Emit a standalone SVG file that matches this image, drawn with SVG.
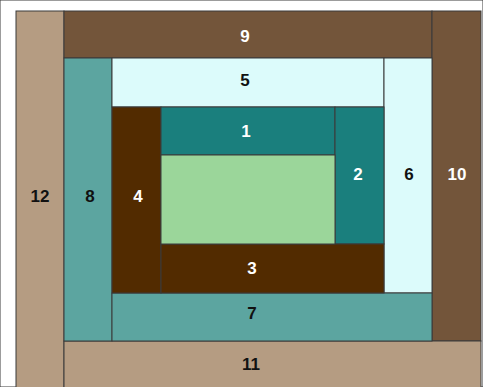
<svg xmlns="http://www.w3.org/2000/svg" width="483" height="387" viewBox="0 0 483 387">
<style>
rect{stroke:#3a3a3a;stroke-width:1}
text{font-family:"Liberation Sans",Arial,sans-serif;font-weight:bold;font-size:17px;text-anchor:middle}
.w{fill:#ffffff}
.k{fill:#111111}
</style>
<rect x="0" y="0" width="483" height="387" fill="#ffffff" stroke="none"/>
<g id="b12"><rect x="16" y="11" width="48" height="380" fill="#b59c82" stroke="#808080"/><text class="k" x="40" y="202">12</text></g>
<g id="b9"><rect x="64" y="11" width="368" height="47" fill="#73553a"/><text class="w" x="245" y="42">9</text></g>
<g id="b10"><rect x="432" y="11" width="49" height="330" fill="#73553a"/><text class="w" x="457" y="180">10</text></g>
<g id="b11"><rect x="64" y="341" width="417" height="50" fill="#b59c82"/><text class="k" x="251" y="370">11</text></g>
<g id="b8"><rect x="64" y="58" width="48" height="283" fill="#5ca5a0"/><text class="k" x="90" y="202">8</text></g>
<g id="b5"><rect x="112" y="58" width="272" height="49" fill="#dcfbfb"/><text class="k" x="245" y="86">5</text></g>
<g id="b6"><rect x="384" y="58" width="48" height="235" fill="#dcfbfb"/><text class="k" x="409" y="180">6</text></g>
<g id="b7"><rect x="112" y="293" width="320" height="48" fill="#5ca5a0"/><text class="k" x="252" y="319">7</text></g>
<g id="b4"><rect x="112" y="107" width="49" height="186" fill="#522b00"/><text class="w" x="138" y="202">4</text></g>
<g id="b1"><rect x="161" y="107" width="174" height="48" fill="#1a7f7d"/><text class="w" x="246" y="137">1</text></g>
<g id="b2"><rect x="335" y="107" width="49" height="137" fill="#1a7f7d"/><text class="w" x="358" y="180">2</text></g>
<g id="b3"><rect x="161" y="244" width="223" height="49" fill="#522b00"/><text class="w" x="252" y="274">3</text></g>
<g id="center"><rect x="161" y="155" width="174" height="89" fill="#9bd69a"/></g>
<g id="connectors"></g>
</svg>
